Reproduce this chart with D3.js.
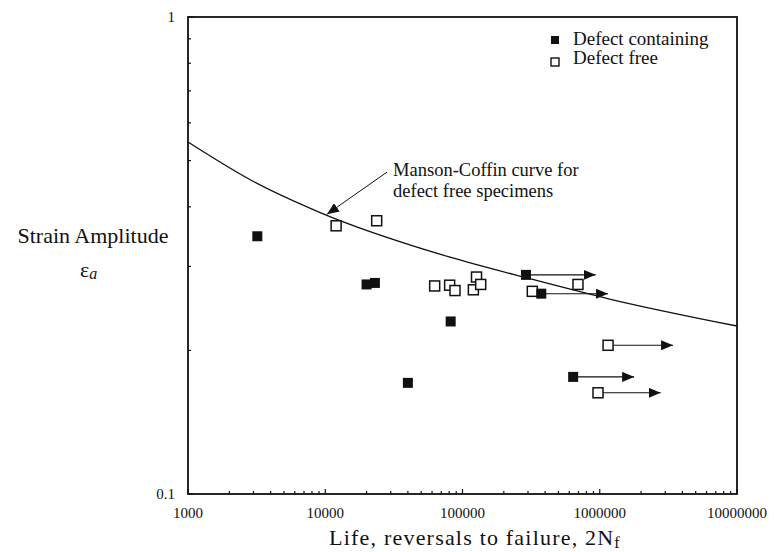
<!DOCTYPE html>
<html>
<head>
<meta charset="utf-8">
<script src="https://cdn.jsdelivr.net/npm/d3@7"></script>
<style>
  body { margin: 0; background: #fff; }
  text { font-family: 'Liberation Serif', 'Times New Roman', serif; fill: #111; }
</style>
</head>
<body>
<div id="chart"></div>
<script>
// axis ticks
const xTickValues = [1000, 10000, 100000, 1000000, 10000000];
const xTickLabels = ['1000', '10000', '100000', '1000000', '10000000'];
const yTickValues = [0.1, 1];
const yTickLabels = ['0.1', '1'];

// defect containing specimens (runout = arrow end, null when failed)
const containingLife = [3200, 20000, 23000, 82000, 40000, 290000, 375000, 640000];
const containingStrain = [0.347, 0.275, 0.277, 0.230, 0.171, 0.288, 0.263, 0.176];
const containingRunout = [null, null, null, null, null, 934000, 1150000, 1780000];

// defect free specimens
const freeLife = [12000, 23700, 62700, 80600, 88200, 120000, 126500, 135700, 322600, 694000, 1150000, 971000];
const freeStrain = [0.365, 0.374, 0.273, 0.274, 0.267, 0.268, 0.285, 0.275, 0.266, 0.275, 0.205, 0.163];
const freeRunout = [null, null, null, null, null, null, null, null, null, null, 3420000, 2780000];

// Manson-Coffin curve
const curveLife = [1000, 3000, 9000, 80000, 320000, 1200000, 10000000];
const curveStrain = [0.547, 0.452, 0.390, 0.314, 0.282, 0.256, 0.225];

// annotation arrow: [life, strain] start and tip
const annoFrom = [28200, 0.473];
const annoTip = [10300, 0.386];
const annoLines = ['Manson-Coffin curve for', 'defect free specimens'];

const margin = { top: 17, right: 37, bottom: 58, left: 188 };
const screenWidth = 774;
const chartHeight = 552;
const width = screenWidth - margin.left - margin.right;
const height = chartHeight - margin.top - margin.bottom;
const ink = '#111';

const root = d3
  .select('#chart')
  .append('svg')
  .attr('width', screenWidth)
  .attr('height', chartHeight);

root.append('defs')
  .append('marker')
  .attr('id', 'head')
  .attr('viewBox', '0 0 12 10')
  .attr('refX', 12)
  .attr('refY', 5)
  .attr('markerWidth', 12)
  .attr('markerHeight', 10)
  .attr('markerUnits', 'userSpaceOnUse')
  .attr('orient', 'auto')
  .append('path')
  .attr('d', 'M0,0L12,5L0,10Z')
  .attr('fill', ink);

const svg = root.append('g').attr('transform', `translate(${margin.left}, ${margin.top})`);

const x = d3.scaleLog().domain([1000, 10000000]).range([0, width]);
const y = d3.scaleLog().domain([0.1, 1]).range([height, 0]);

// frame
svg.append('rect')
  .attr('width', width)
  .attr('height', height)
  .attr('fill', 'none')
  .attr('stroke', ink)
  .attr('stroke-width', 1.8);

// inward ticks, minor from the log scale
const isMajor = (v) => Math.abs(Math.log10(v) - Math.round(Math.log10(v))) < 1e-6;
svg.append('g').selectAll('line')
  .data(x.ticks())
  .enter()
  .append('line')
  .attr('x1', (d) => x(d))
  .attr('x2', (d) => x(d))
  .attr('y1', height)
  .attr('y2', (d) => height - (isMajor(d) ? 5 : 3))
  .attr('stroke', ink)
  .attr('stroke-width', 1.2);

svg.append('g').selectAll('line')
  .data(y.ticks())
  .enter()
  .append('line')
  .attr('y1', (d) => y(d))
  .attr('y2', (d) => y(d))
  .attr('x1', 0)
  .attr('x2', (d) => (isMajor(d) ? 5 : 3))
  .attr('stroke', ink)
  .attr('stroke-width', 1.2);

// tick labels
svg.append('g').selectAll('text')
  .data(xTickValues)
  .enter()
  .append('text')
  .attr('x', (d) => x(d))
  .attr('y', height + 24)
  .attr('text-anchor', 'middle')
  .style('font-size', '15px')
  .text((d, i) => xTickLabels[i]);

svg.append('g').selectAll('text')
  .data(yTickValues)
  .enter()
  .append('text')
  .attr('x', -13)
  .attr('y', (d) => y(d) + 5)
  .attr('text-anchor', 'end')
  .style('font-size', '15px')
  .text((d, i) => yTickLabels[i]);

// axis titles
const xTitle = svg.append('text')
  .attr('x', 287)
  .attr('y', height + 51)
  .attr('text-anchor', 'middle')
  .style('font-size', '22px')
  .style('letter-spacing', '1.2px');
xTitle.append('tspan').text('Life, reversals to failure, 2N');
xTitle.append('tspan').attr('dy', 3).style('font-size', '16px').text('f');

root.append('text')
  .attr('x', 93)
  .attr('y', 243)
  .attr('text-anchor', 'middle')
  .style('font-size', '22px')
  .text('Strain Amplitude');

const eps = root.append('text')
  .attr('x', 80)
  .attr('y', 277)
  .style('font-size', '22px');
eps.append('tspan').text('ε');
eps.append('tspan').attr('dy', 2).style('font-size', '16px').style('font-style', 'italic').text('a');

// Manson-Coffin curve
const curvePts = curveLife.map((v, i) => [x(v), y(curveStrain[i])]);
svg.append('path')
  .attr('d', d3.line().curve(d3.curveMonotoneX)(curvePts))
  .attr('fill', 'none')
  .attr('stroke', ink)
  .attr('stroke-width', 1.3);

// annotation
svg.append('line')
  .attr('x1', x(annoFrom[0]))
  .attr('y1', y(annoFrom[1]))
  .attr('x2', x(annoTip[0]))
  .attr('y2', y(annoTip[1]))
  .attr('stroke', ink)
  .attr('stroke-width', 1)
  .attr('marker-end', 'url(#head)');

svg.append('g').selectAll('text')
  .data(annoLines)
  .enter()
  .append('text')
  .attr('x', x(annoFrom[0]) + 6)
  .attr('y', (d, i) => y(annoFrom[1]) + 4 + i * 21)
  .style('font-size', '18.5px')
  .text((d) => d);

// runout arrows
const drawRunouts = (life, strain, runout) => {
  const idx = d3.range(life.length).filter((i) => runout[i] !== null);
  svg.append('g').selectAll('line')
    .data(idx)
    .enter()
    .append('line')
    .attr('x1', (i) => x(life[i]))
    .attr('x2', (i) => x(runout[i]))
    .attr('y1', (i) => y(strain[i]))
    .attr('y2', (i) => y(strain[i]))
    .attr('stroke', ink)
    .attr('stroke-width', 1.1)
    .attr('marker-end', 'url(#head)');
};
drawRunouts(containingLife, containingStrain, containingRunout);
drawRunouts(freeLife, freeStrain, freeRunout);

// points
const size = 10;
svg.append('g').selectAll('rect')
  .data(freeLife)
  .enter()
  .append('rect')
  .attr('x', (d) => x(d) - size / 2)
  .attr('y', (d, i) => y(freeStrain[i]) - size / 2)
  .attr('width', size)
  .attr('height', size)
  .attr('fill', '#fff')
  .attr('stroke', ink)
  .attr('stroke-width', 1.5);

svg.append('g').selectAll('rect')
  .data(containingLife)
  .enter()
  .append('rect')
  .attr('x', (d) => x(d) - size / 2)
  .attr('y', (d, i) => y(containingStrain[i]) - size / 2)
  .attr('width', size)
  .attr('height', size)
  .attr('fill', ink);

// legend
const legend = root.append('g').attr('transform', 'translate(555, 40)');
legend.append('rect')
  .attr('x', -4).attr('y', -4).attr('width', 8).attr('height', 8)
  .attr('fill', ink);
legend.append('rect')
  .attr('x', -4).attr('y', 18).attr('width', 8).attr('height', 8)
  .attr('fill', '#fff').attr('stroke', ink).attr('stroke-width', 1.4);
legend.append('text')
  .attr('x', 18).attr('y', 5)
  .style('font-size', '19px')
  .text('Defect containing');
legend.append('text')
  .attr('x', 18).attr('y', 24)
  .style('font-size', '19px')
  .text('Defect free');
</script>
</body>
</html>
